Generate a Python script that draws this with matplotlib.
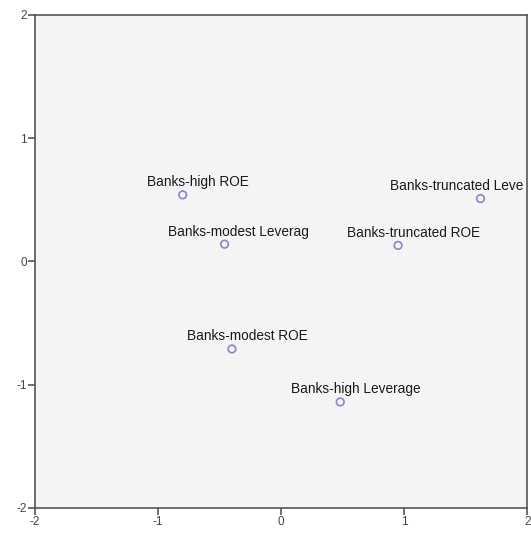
import matplotlib.pyplot as plt

plt.rcParams['font.family'] = ['Liberation Sans', 'DejaVu Sans']
plt.rcParams['axes.unicode_minus'] = False

labels = ['Banks-high ROE', 'Banks-modest Leverag', 'Banks-truncated Leve',
          'Banks-truncated ROE', 'Banks-modest ROE', 'Banks-high Leverage']
dim1 = [-0.80, -0.46, 1.62, 0.95, -0.40, 0.48]
dim2 = [0.54, 0.14, 0.51, 0.13, -0.71, -1.14]
# horizontal nudge (points); the right-most label is pulled back inside the frame
label_dx = [11, 10, -17, 11, 11, 11]

fig = plt.figure(figsize=(5.31, 5.33), dpi=100)
ax = fig.add_axes([0.066, 0.047, 0.927, 0.925])
ax.set_facecolor('#f4f4f4')

ax.scatter(dim1, dim2, s=30, facecolors='none', edgecolors='#8888c8', linewidths=1.2, zorder=3)
for x, y, t, dx in zip(dim1, dim2, labels, label_dx):
    ax.annotate(t, (x, y), xytext=(dx, 4), textcoords='offset points',
                ha='center', va='bottom', fontsize=9.8, color='#1a1a1a',
                annotation_clip=False, clip_on=True)

ax.set_xlim(-2, 2)
ax.set_ylim(-2, 2)
ax.set_xticks([-2, -1, 0, 1, 2])
ax.set_yticks([-2, -1, 0, 1, 2])
for s in ax.spines.values():
    s.set_color('#555555')
    s.set_linewidth(1.2)
ax.tick_params(direction='out', length=5, width=1.2, color='#555555',
               labelsize=8.5, labelcolor='#444444', pad=1)

fig.savefig('out.png', dpi=100)
